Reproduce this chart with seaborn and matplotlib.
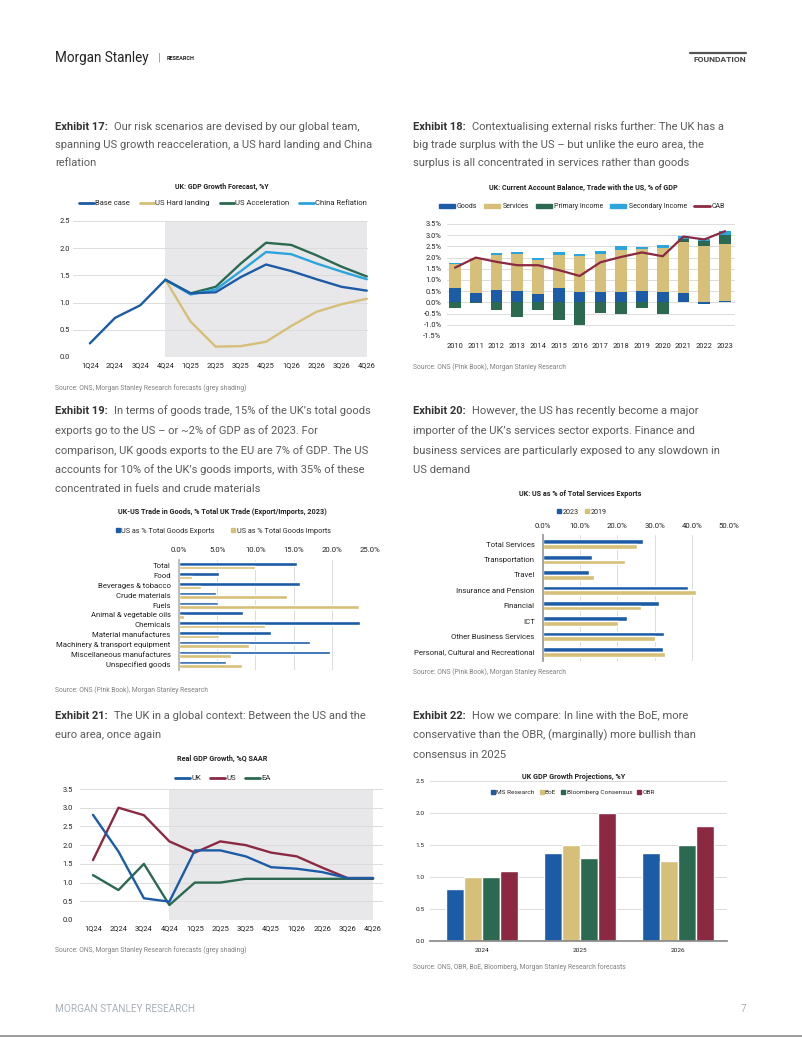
import numpy as np
import pandas as pd
import matplotlib
matplotlib.use("Agg")
import matplotlib.pyplot as plt
import seaborn as sns
from matplotlib.lines import Line2D
from matplotlib.patches import Patch

# ---- data ----
quarters = ["1Q24", "2Q24", "3Q24", "4Q24", "1Q25", "2Q25", "3Q25", "4Q25", "1Q26", "2Q26", "3Q26", "4Q26"]
nan = np.nan

# Exhibit 17
base_case = [0.25, 0.72, 0.95, 1.42, 1.17, 1.19, 1.47, 1.70, 1.58, 1.43, 1.29, 1.22]
us_hard_landing = [nan, nan, nan, 1.42, 0.65, 0.19, 0.20, 0.28, 0.57, 0.83, 0.97, 1.07]
us_acceleration = [nan, nan, nan, 1.42, 1.17, 1.29, 1.72, 2.10, 2.06, 1.87, 1.66, 1.48]
china_reflation = [nan, nan, nan, 1.42, 1.15, 1.24, 1.58, 1.93, 1.89, 1.72, 1.57, 1.43]

# Exhibit 18
years = [str(y) for y in range(2010, 2024)]
goods = [0.63, 0.40, 0.57, 0.51, 0.36, 0.63, 0.48, 0.45, 0.48, 0.51, 0.45, 0.43, -0.05, 0.07]
services = [1.10, 1.58, 1.54, 1.64, 1.52, 1.48, 1.58, 1.70, 1.85, 1.88, 1.99, 2.28, 2.51, 2.53]
primary_income = [-0.25, -0.02, -0.36, -0.63, -0.34, -0.79, -1.02, -0.49, -0.52, -0.27, -0.54, 0.12, 0.25, 0.39]
secondary_income = [0.05, 0.02, 0.09, 0.09, 0.12, 0.12, 0.12, 0.15, 0.18, 0.09, 0.12, 0.12, 0.05, 0.20]
cab = [1.55, 2.00, 1.81, 1.66, 1.66, 1.44, 1.18, 1.79, 2.03, 2.23, 2.06, 2.94, 2.81, 3.18]

# Exhibit 19
goods_categories = ["Total", "Food", "Beverages & tobacco", "Crude materials", "Fuels",
                    "Animal & vegetable oils", "Chemicals", "Material manufactures",
                    "Machinery & transport equipment", "Miscellaneous manufactures", "Unspecified goods"]
goods_exports = [15.4, 5.2, 15.9, 4.9, 5.1, 8.4, 23.7, 12.1, 17.1, 19.8, 6.1]
goods_imports = [10.0, 1.75, 2.9, 14.2, 23.5, 0.7, 11.2, 5.2, 9.2, 6.8, 8.2]

# Exhibit 20
service_categories = ["Total Services", "Transportation", "Travel", "Insurance and Pension",
                      "Financial", "ICT", "Other Business Services", "Personal, Cultural and Recreational"]
services_2023 = [26.9, 13.2, 12.3, 39.0, 31.1, 22.5, 32.6, 32.2]
services_2019 = [25.2, 22.0, 13.6, 41.1, 26.4, 20.2, 30.2, 32.9]

# Exhibit 21
uk_growth = [2.81, 1.83, 0.58, 0.49, 1.86, 1.86, 1.70, 1.41, 1.37, 1.28, 1.12, 1.12]
us_growth = [1.60, 3.00, 2.80, 2.10, 1.80, 2.10, 2.00, 1.80, 1.70, 1.40, 1.12, 1.12]
ea_growth = [1.20, 0.80, 1.50, 0.40, 1.00, 1.00, 1.10, 1.10, 1.10, 1.10, 1.10, 1.10]

# Exhibit 22
proj_years = ["2024", "2025", "2026"]
proj_sources = ["MS Research", "BoE", "Bloomberg Consensus", "OBR"]
ms_research = [0.82, 1.38, 1.38]
boe = [1.00, 1.50, 1.25]
bloomberg = [1.00, 1.30, 1.50]
obr = [1.10, 2.00, 1.80]

# ---- style ----
sns.set_theme(style="white")
plt.rcParams['font.family'] = ['Roboto', 'DejaVu Sans']

W, H = 802, 1037
BLUE = "#1c5ba5"
GOLD = "#d6bf78"
GREEN = "#2b6a50"
LBLUE = "#2ba5dc"
MAROON = "#8b2943"
GRID = "#dcdcdc"
SHADE = "#e8e8ea"
TXT = "#222222"
BODY = "#5a5a5a"
BODY_PX = 11.1


def px(v):
    return v * 0.72


fig = plt.figure(figsize=(W / 100, H / 100), dpi=100)
fig.patch.set_facecolor("white")


def box(x0, y0, x1, y1):
    return fig.add_axes([x0 / W, 1 - y1 / H, (x1 - x0) / W, (y1 - y0) / H])


def ftext(x, y, s, **kw):
    kw.setdefault("va", "center")
    return fig.text(x / W, 1 - y / H, s, **kw)


def style(ax, grid_axis="y", labelsize=7.5, pad=2):
    for s in ax.spines.values():
        s.set_visible(False)
    ax.grid(True, axis=grid_axis, color=GRID, linewidth=0.7)
    ax.set_axisbelow(True)
    ax.tick_params(length=0, labelsize=px(labelsize), colors=TXT, pad=pad)
    ax.set_xlabel("")
    ax.set_ylabel("")


def legend(handles, labels, cx, cy, fs=7.3, **kw):
    fig.legend(handles, labels, loc="center", bbox_to_anchor=(cx / W, 1 - cy / H),
               ncol=len(labels), frameon=False, fontsize=px(fs), borderaxespad=0,
               **kw)


def exhibit(x, ys, label, lines):
    t = ftext(x, ys[0], label, fontsize=px(BODY_PX), fontweight="bold", color="#333333")
    fig.canvas.draw()
    bb = t.get_window_extent(fig.canvas.get_renderer())
    ftext(bb.x1 + 6, ys[0], lines[0], fontsize=px(BODY_PX), color=BODY)
    for y, s in zip(ys[1:], lines[1:]):
        ftext(x, y, s, fontsize=px(BODY_PX), color=BODY)


def source(x, y, s):
    ftext(x, y, s, fontsize=px(6.8), color="#808080")


# ---- header / footer ----
ftext(55, 58, "Morgan Stanley", fontsize=px(13.5), color=TXT)
ftext(158, 58, "|", fontsize=px(11), color="#888888")
ftext(167, 58, "RESEARCH", fontsize=px(5.5), fontweight="bold", color=TXT)
ftext(746, 59, "FOUNDATION", fontsize=px(8.5), fontweight="bold", color="#444444", ha="right")
fig.add_artist(Line2D([690 / W, 746 / W], [1 - 52.5 / H, 1 - 52.5 / H], color="#555555", linewidth=1.6))
ftext(55, 1009, "MORGAN STANLEY RESEARCH", fontsize=px(10), color="#aab0b6")
ftext(746, 1009, "7", fontsize=px(10), color="#aab0b6", ha="right")
fig.add_artist(Line2D([0, 1], [1 - 1035.5 / H, 1 - 1035.5 / H], color="#8a8a8a", linewidth=1.2))

# ---- body texts ----
exhibit(55, [127, 145, 163], "Exhibit 17:",
        ["Our risk scenarios are devised by our global team,",
         "spanning US growth reacceleration, a US hard landing and China",
         "reflation"])
exhibit(413, [127, 145, 163], "Exhibit 18:",
        ["Contextualising external risks further: The UK has a",
         "big trade surplus with the US \u2013 but unlike the euro area, the",
         "surplus is all concentrated in services rather than goods"])
exhibit(55, [411, 431, 451, 470, 489], "Exhibit 19:",
        ["In terms of goods trade, 15% of the UK\u2019s total goods",
         "exports go to the US \u2013 or ~2% of GDP as of 2023. For",
         "comparison, UK goods exports to the EU are 7% of GDP. The US",
         "accounts for 10% of the UK\u2019s goods imports, with 35% of these",
         "concentrated in fuels and crude materials"])
exhibit(413, [411, 431, 451, 470], "Exhibit 20:",
        ["However, the US has recently become a major",
         "importer of the UK\u2019s services sector exports. Finance and",
         "business services are particularly exposed to any slowdown in",
         "US demand"])
exhibit(55, [716, 735], "Exhibit 21:",
        ["The UK in a global context: Between the US and the",
         "euro area, once again"])
exhibit(413, [716, 735, 755], "Exhibit 22:",
        ["How we compare: In line with the BoE, more",
         "conservative than the OBR, (marginally) more bullish than",
         "consensus in 2025"])

# ---- Exhibit 17 ----
ax = box(73, 221, 368, 357)
ax.axvspan(3, 11, color=SHADE, lw=0, zorder=0)
xq = np.arange(len(quarters))
for vals, col in [(us_hard_landing, GOLD), (us_acceleration, GREEN),
                  (china_reflation, LBLUE), (base_case, BLUE)]:
    sns.lineplot(x=xq, y=vals, color=col, linewidth=1.7, ax=ax)
style(ax, pad=2)
ax.set_xlim(-0.67, 11.05)
ax.set_ylim(0, 2.5)
ax.set_xticks(xq, quarters)
ax.set_yticks(np.arange(0, 2.51, 0.5), [f"{v:.1f}" for v in np.arange(0, 2.51, 0.5)])
ax.tick_params(axis="x", pad=4)
ftext(222, 187, "UK: GDP Growth Forecast, %Y", fontsize=px(7), fontweight="bold", color=TXT, ha="center")
legend([Line2D([], [], color=c, lw=2) for c in [BLUE, GOLD, GREEN, LBLUE]],
       ["Base case", "US Hard landing", "US Acceleration", "China Reflation"], 223, 203, fs=7.6,
       handlelength=1.9, handletextpad=0.15, columnspacing=1.3)
source(55, 388, "Source: ONS, Morgan Stanley Research forecasts (grey shading)")

# ---- Exhibit 18 ----
ax = box(447, 224, 735, 336)
xy = np.arange(len(years))
pos = np.zeros(len(years))
neg = np.zeros(len(years))
for vals, col in [(goods, BLUE), (services, GOLD), (primary_income, GREEN), (secondary_income, LBLUE)]:
    v = np.array(vals)
    ax.bar(xy, v, bottom=np.where(v >= 0, pos, neg), width=0.56, color=col, linewidth=0, zorder=2)
    pos = pos + np.clip(v, 0, None)
    neg = neg + np.clip(v, None, 0)
sns.lineplot(x=xy, y=cab, color=MAROON, linewidth=1.6, ax=ax, zorder=3)
style(ax, pad=4)
ax.set_xlim(-0.385, 13.48)
ax.set_ylim(-1.5, 3.5)
ax.set_xticks(xy, years)
yt = np.arange(-1.5, 3.51, 0.5)
ax.set_yticks(yt, [f"{v:.1f}%" for v in yt])
ax.tick_params(axis="x", pad=5)
ftext(583, 188, "UK: Current Account Balance, Trade with the US, % of GDP", fontsize=px(7.3),
      fontweight="bold", color=TXT, ha="center")
legend([Patch(color=c) for c in [BLUE, GOLD, GREEN, LBLUE]] + [Line2D([], [], color=MAROON, lw=2)],
       ["Goods", "Services", "Primary Income", "Secondary Income", "CAB"], 582, 207, fs=7,
       handlelength=2.3, handleheight=0.6, handletextpad=0.3, columnspacing=1.0)
source(413, 367, "Source: ONS (Pink Book), Morgan Stanley Research")

# ---- Exhibit 19 ----
ax = box(179, 560, 370, 670)
df19 = pd.DataFrame({
    "category": goods_categories * 2,
    "value": goods_exports + goods_imports,
    "series": ["US as % Total Goods Exports"] * len(goods_categories)
              + ["US as % Total Goods Imports"] * len(goods_categories),
})
sns.barplot(data=df19, x="value", y="category", hue="series", order=goods_categories,
            palette=[BLUE, GOLD], width=0.72, orient="h", saturation=1, legend=False, ax=ax)
style(ax, grid_axis="x", labelsize=7.8)
ax.spines["left"].set_visible(True)
ax.spines["left"].set_color("#b5b5b5")
ax.xaxis.tick_top()
ax.set_xlim(0, 25)
ax.set_ylim(10.6, -0.6)
xt = np.arange(0, 26, 5)
ax.set_xticks(xt, [f"{v:.1f}%" for v in xt])
ax.tick_params(axis="x", pad=5)
ax.tick_params(axis="y", pad=6)
ftext(222, 512, "UK-US Trade in Goods, % Total UK Trade (Export/Imports, 2023)", fontsize=px(7.3),
      fontweight="bold", color=TXT, ha="center")
legend([Line2D([], [], marker="s", ls="none", color=c, markersize=3.5) for c in [BLUE, GOLD]],
       ["US as % Total Goods Exports", "US as % Total Goods Imports"], 223, 531,
       handlelength=0.6, handletextpad=0.2, columnspacing=2.2)
source(55, 690, "Source: ONS (Pink Book), Morgan Stanley Research")

# ---- Exhibit 20 ----
ax = box(543, 535, 729, 661)
df20 = pd.DataFrame({
    "category": service_categories * 2,
    "value": services_2023 + services_2019,
    "year": ["2023"] * len(service_categories) + ["2019"] * len(service_categories),
})
sns.barplot(data=df20, x="value", y="category", hue="year", order=service_categories,
            palette=[BLUE, GOLD], width=0.62, orient="h", saturation=1, legend=False, ax=ax)
style(ax, grid_axis="x", labelsize=7.8)
ax.spines["left"].set_visible(True)
ax.spines["left"].set_color("#9a9a9a")
ax.xaxis.tick_top()
ax.set_xlim(0, 50)
ax.set_ylim(7.6, -0.6)
xt = np.arange(0, 51, 10)
ax.set_xticks(xt, [f"{v:.1f}%" for v in xt])
ax.tick_params(axis="x", pad=4)
ax.tick_params(axis="y", pad=6)
ftext(580, 494, "UK: US as % of Total Services Exports", fontsize=px(7.3),
      fontweight="bold", color=TXT, ha="center")
legend([Line2D([], [], marker="s", ls="none", color=c, markersize=3.5) for c in [BLUE, GOLD]],
       ["2023", "2019"], 582, 512, handlelength=0.6, handletextpad=0.2, columnspacing=0.8)
source(413, 672, "Source: ONS (Pink Book), Morgan Stanley Research")

# ---- Exhibit 21 ----
ax = box(80, 789, 383, 920)
ax.axvspan(3, 11, color=SHADE, lw=0, zorder=0)
for vals, col in [(ea_growth, GREEN), (us_growth, MAROON), (uk_growth, BLUE)]:
    sns.lineplot(x=xq, y=vals, color=col, linewidth=1.7, ax=ax)
style(ax, pad=5)
ax.set_xlim(-0.51, 11.39)
ax.set_ylim(0, 3.5)
ax.set_xticks(xq, quarters)
yt = np.arange(0, 3.51, 0.5)
ax.set_yticks(yt, [f"{v:.1f}" for v in yt])
ax.tick_params(axis="x", pad=4)
ftext(222, 759, "Real GDP Growth, %Q SAAR", fontsize=px(7.3), fontweight="bold", color=TXT, ha="center")
legend([Line2D([], [], color=c, lw=2) for c in [BLUE, MAROON, GREEN]],
       ["UK", "US", "EA"], 223, 778, fs=7.8, handlelength=1.9, handletextpad=0.15, columnspacing=1.2)
source(55, 950, "Source: ONS, Morgan Stanley Research forecasts (grey shading)")

# ---- Exhibit 22 ----
ax = box(430, 781, 727, 941)
df22 = pd.DataFrame({
    "year": proj_years * 4,
    "value": ms_research + boe + bloomberg + obr,
    "source": [s for s in proj_sources for _ in proj_years],
})
sns.barplot(data=df22, x="year", y="value", hue="source", hue_order=proj_sources,
            palette=[BLUE, GOLD, GREEN, MAROON], width=0.73, saturation=1, legend=False, ax=ax)
style(ax, labelsize=6.5, pad=4)
ax.spines["bottom"].set_visible(True)
ax.spines["bottom"].set_color("#8a8a8a")
ax.set_xlim(-0.53, 2.5)
ax.set_ylim(0, 2.5)
yt = np.arange(0, 2.51, 0.5)
ax.set_yticks(yt, [f"{v:.1f}" for v in yt])
ax.tick_params(axis="x", pad=5)
ftext(574, 777, "UK GDP Growth Projections, %Y", fontsize=px(7.3), fontweight="bold", color=TXT, ha="center")
legend([Line2D([], [], marker="s", ls="none", color=c, markersize=3.2) for c in [BLUE, GOLD, GREEN, MAROON]],
       proj_sources, 573, 792, fs=6.5, handlelength=0.6, handletextpad=0.2, columnspacing=0.8)
source(413, 967, "Source: ONS, OBR, BoE, Bloomberg, Morgan Stanley Research forecasts")

fig.savefig("out.png", dpi=100, facecolor="white")
